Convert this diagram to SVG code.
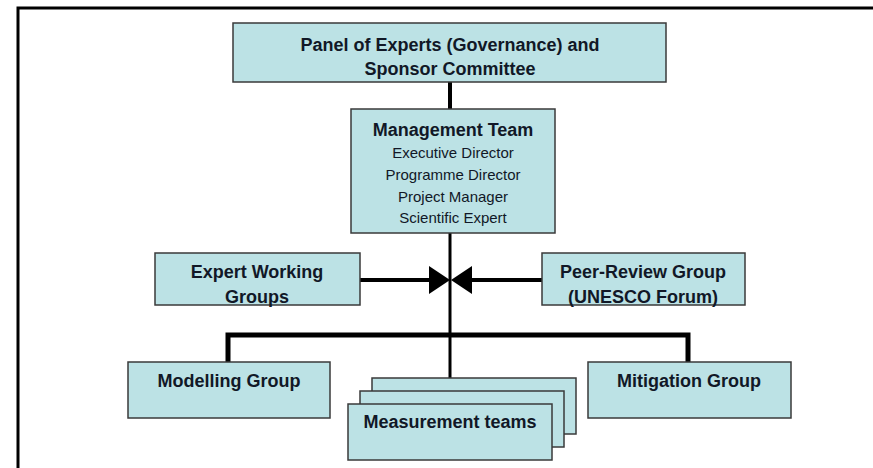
<svg xmlns="http://www.w3.org/2000/svg" width="873" height="468" viewBox="0 0 873 468">
<style>
.box{fill:#bce2e5;stroke:#3a3a3a;stroke-width:1.5}
.t{font-family:"Liberation Sans",Arial,sans-serif;fill:#111827;text-anchor:middle}
.b{font-weight:bold;font-size:18px}
.r{font-size:15px}
.c{stroke:#000;fill:none}
</style>
<rect width="873" height="468" fill="#fff"/>
<path d="M18,468 V8 H873" fill="none" stroke="#000" stroke-width="3"/>
<g id="connectors">
<line class="c" x1="450" y1="82" x2="450" y2="109" stroke-width="4"/>
<line class="c" x1="450" y1="233" x2="450" y2="378" stroke-width="3"/>
<line class="c" x1="360" y1="280" x2="430" y2="280" stroke-width="4"/>
<polygon points="429,266 450,280 429,294" fill="#000"/>
<line class="c" x1="542" y1="280" x2="471" y2="280" stroke-width="4"/>
<polygon points="472,266 451,280 472,294" fill="#000"/>
<path class="c" d="M228,362 V335 H688 V362" stroke-width="5"/>
</g>
<g id="panel">
<rect class="box" x="233" y="23" width="433" height="59"/>
<text class="t b" x="450" y="51">Panel of Experts (Governance) and</text>
<text class="t b" x="450" y="75">Sponsor Committee</text>
</g>
<g id="management">
<rect class="box" x="351" y="109" width="204" height="124"/>
<text class="t b" x="453" y="136">Management Team</text>
<text class="t r" x="453" y="158">Executive Director</text>
<text class="t r" x="453" y="180">Programme Director</text>
<text class="t r" x="453" y="202">Project Manager</text>
<text class="t r" x="453" y="223">Scientific Expert</text>
</g>
<g id="expert">
<rect class="box" x="155" y="253" width="205" height="52"/>
<text class="t b" x="257" y="278">Expert Working</text>
<text class="t b" x="257" y="303">Groups</text>
</g>
<g id="peer">
<rect class="box" x="542" y="253" width="203" height="52"/>
<text class="t b" x="643" y="278">Peer-Review Group</text>
<text class="t b" x="643" y="303">(UNESCO Forum)</text>
</g>
<g id="modelling">
<rect class="box" x="128" y="362" width="202" height="56"/>
<text class="t b" x="229" y="387">Modelling Group</text>
</g>
<g id="mitigation">
<rect class="box" x="588" y="362" width="203" height="56"/>
<text class="t b" x="689" y="387">Mitigation Group</text>
</g>
<g id="measurement">
<rect class="box" x="372" y="378" width="204" height="56"/>
<rect class="box" x="360" y="391" width="204" height="56"/>
<rect class="box" x="348" y="404" width="204" height="56"/>
<text class="t b" x="450" y="428">Measurement teams</text>
</g>
</svg>
